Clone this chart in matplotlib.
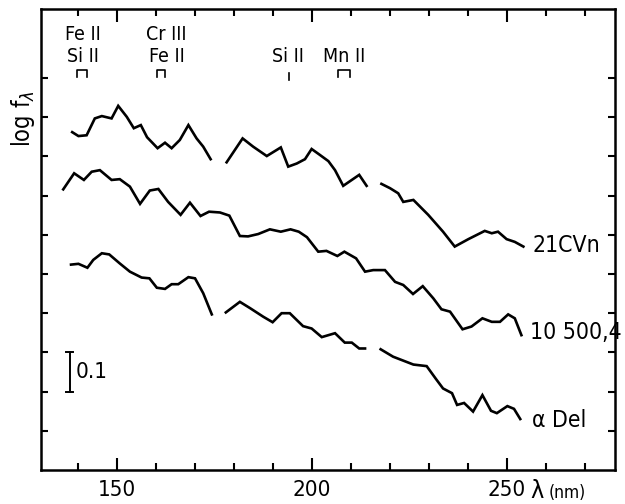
import matplotlib
matplotlib.use("Agg")
import matplotlib.pyplot as plt
from matplotlib import font_manager

# pick a narrow sans if one is around, the scan uses a condensed DIN-like face
_fonts = font_manager.fontManager.ttflist
if any(f.name == "Liberation Sans Narrow" for f in _fonts):
    FONT = dict(family="Liberation Sans Narrow")
elif any(f.name == "DejaVu Sans" and f.stretch == "condensed" for f in _fonts):
    FONT = dict(family="DejaVu Sans", stretch="condensed")
else:
    FONT = dict(family="DejaVu Sans")

# 21 CVn, three pieces (wavelength nm, relative log f)
cvn_wl = [
    [138.6, 140.2, 142.3, 144.4, 146.2, 148.7, 150.4, 152.6, 154.4, 156.2, 157.8,
     160.5, 162.4, 164.1, 166.2, 168.4, 170.5, 172.2, 174.1],
    [178.2, 182.3, 185.0, 188.5, 192.1, 194.0, 196.2, 198.3, 200.0, 202.1, 204.3,
     206.0, 208.1, 212.2, 214.1],
    [217.9, 220.1, 222.2, 223.5, 226.1, 229.9, 233.7, 236.7, 240.2, 244.4, 246.2,
     247.8, 250.0, 252.1, 254.3],
]
cvn_f = [
    [0.862, 0.852, 0.854, 0.897, 0.903, 0.897, 0.929, 0.901, 0.872, 0.880, 0.849,
     0.821, 0.835, 0.821, 0.842, 0.880, 0.846, 0.825, 0.793],
    [0.785, 0.846, 0.825, 0.801, 0.823, 0.774, 0.782, 0.793, 0.819, 0.804, 0.788,
     0.765, 0.725, 0.753, 0.725],
    [0.730, 0.719, 0.706, 0.684, 0.689, 0.651, 0.608, 0.570, 0.589, 0.610, 0.604,
     0.608, 0.589, 0.582, 0.570],
]

# HR 10500,4 (one continuous curve)
hr_wl = [136.3, 139.1, 141.6, 143.6, 145.7, 148.7, 150.8, 153.4, 156.0, 158.5, 160.7,
         163.2, 166.4, 168.8, 171.5, 173.7, 176.5, 178.9, 181.6, 183.7, 186.3, 189.3,
         192.1, 194.6, 196.7, 198.8, 201.7, 203.8, 206.6, 208.4, 211.4, 213.7, 215.8,
         218.8, 221.4, 223.5, 226.0, 228.5, 231.2, 233.3, 235.5, 238.7, 241.0, 243.8,
         246.2, 248.3, 250.4, 252.1, 253.8]
hr_f = [0.716, 0.757, 0.740, 0.761, 0.765, 0.740, 0.742, 0.723, 0.679, 0.713, 0.717,
        0.684, 0.651, 0.682, 0.648, 0.659, 0.657, 0.649, 0.597, 0.596, 0.602, 0.614,
        0.608, 0.614, 0.608, 0.594, 0.557, 0.559, 0.546, 0.557, 0.540, 0.506, 0.510,
        0.510, 0.480, 0.472, 0.449, 0.469, 0.438, 0.410, 0.404, 0.359, 0.366, 0.387,
        0.378, 0.378, 0.397, 0.387, 0.344]

# alpha Del, three pieces
adel_wl = [
    [138.3, 140.2, 142.5, 144.0, 146.2, 148.1, 150.8, 153.4, 156.4, 158.4, 160.3,
     162.4, 164.1, 165.8, 168.4, 170.1, 172.2, 174.4],
    [178.0, 181.6, 184.2, 187.6, 190.0, 192.3, 194.4, 197.8, 200.0, 202.6, 206.0,
     208.5, 210.3, 212.2, 213.7],
    [217.7, 220.9, 223.5, 226.1, 229.5, 231.9, 233.7, 236.0, 237.3, 239.1, 241.4,
     243.8, 246.0, 247.5, 250.2, 251.9, 253.5],
]
adel_f = [
    [0.524, 0.526, 0.516, 0.536, 0.553, 0.550, 0.527, 0.506, 0.491, 0.489, 0.465,
     0.462, 0.474, 0.474, 0.492, 0.489, 0.451, 0.397],
    [0.402, 0.429, 0.413, 0.391, 0.377, 0.400, 0.400, 0.367, 0.361, 0.339, 0.349,
     0.325, 0.325, 0.310, 0.310],
    [0.308, 0.289, 0.279, 0.269, 0.265, 0.232, 0.208, 0.196, 0.166, 0.171, 0.149,
     0.191, 0.151, 0.145, 0.163, 0.156, 0.130],
]

star_names = ["21CVn", "10 500,4", "α Del"]
name_pos = [(256.7, 0.574), (256.0, 0.352), (256.5, 0.125)]

# line identifications: (text rows, centre wl, marker wl range)
ident_rows = [["Fe II", "Si II"], ["Cr III", "Fe II"], ["Si II"], ["Mn II"]]
ident_wl = [141.3, 162.8, 193.9, 208.3]
ident_marks = [(139.8, 142.4), (160.3, 162.4), (194.2, 194.2), (206.8, 209.9)]

xlim = (130.6, 277.8)
ylim = (0.0, 1.176)
major_x = [150, 200, 250]
minor_x = list(range(140, 280, 10))
yticks = [0.1 * i for i in range(1, 11)]


def main():
    fig = plt.figure(figsize=(6.25, 5.04), dpi=100)
    ax = fig.add_axes([0.0656, 0.0675, 0.9184, 0.9145])

    kw = dict(color="black", lw=1.9, solid_joinstyle="miter")
    for xs, ys in zip(cvn_wl, cvn_f):
        ax.plot(xs, ys, **kw)
    ax.plot(hr_wl, hr_f, **kw)
    for xs, ys in zip(adel_wl, adel_f):
        ax.plot(xs, ys, **kw)

    for name, (x, y) in zip(star_names, name_pos):
        ax.text(x, y, name, fontsize=16.5, va="center", ha="left", **FONT)

    # identifications along the top
    for rows, xc, (m0, m1) in zip(ident_rows, ident_wl, ident_marks):
        y = 1.054
        for txt in reversed(rows):
            ax.text(xc, y, txt, fontsize=14, ha="center", va="center", **FONT)
            y += 0.058
        if m0 == m1:
            ax.plot([m0, m0], [0.995, 1.013], color="black", lw=1.2)
        else:
            ax.plot([m0, m0, m1, m1], [1.003, 1.020, 1.020, 1.003], color="black", lw=1.2)

    # 0.1 scale bar
    ax.plot([138.0, 138.0], [0.2, 0.3], color="black", lw=1.4)
    ax.plot([137.1, 138.9], [0.3, 0.3], color="black", lw=1.4)
    ax.plot([137.1, 138.9], [0.2, 0.2], color="black", lw=1.4)
    ax.text(139.6, 0.25, "0.1", fontsize=16, va="center", ha="left", **FONT)

    ax.set_xlim(*xlim)
    ax.set_ylim(*ylim)
    ax.set_xticks(major_x)
    ax.set_xticks(minor_x, minor=True)
    ax.set_yticks(yticks)
    ax.set_yticklabels([])
    ax.tick_params(axis="both", which="both", direction="in", top=True, right=True,
                   width=1.5, color="black")
    ax.tick_params(axis="x", which="major", length=9, pad=7, labelsize=16)
    ax.tick_params(axis="x", which="minor", length=5)
    ax.tick_params(axis="y", which="major", length=5)
    for lab in ax.get_xticklabels():
        lab.set(**FONT)
    for sp in ax.spines.values():
        sp.set_linewidth(1.8)

    fig.text(0.849, 0.025, "λ", fontsize=18, ha="left", va="center", **FONT)
    fig.text(0.878, 0.022, "(nm)", fontsize=12.5, ha="left", va="center", **FONT)
    fig.text(0.037, 0.765, r"log f$_{\lambda}$", fontsize=17, rotation=90,
             ha="center", va="center", **FONT)

    fig.savefig("out.png", dpi=100)


if __name__ == "__main__":
    main()
